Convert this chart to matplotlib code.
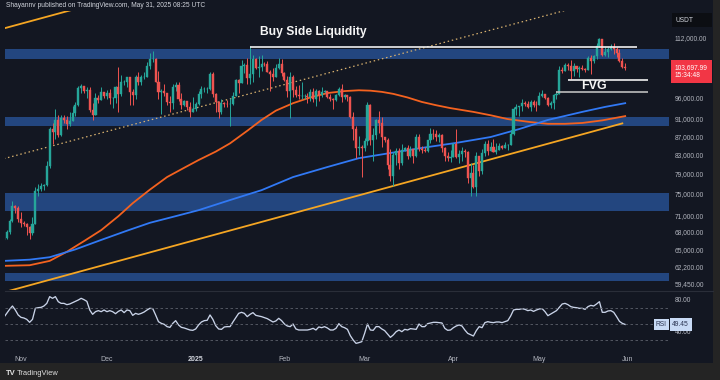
import numpy as np
import pandas as pd
import matplotlib
matplotlib.use("Agg")
import matplotlib.pyplot as plt
import matplotlib.dates as mdates
from matplotlib.patches import Rectangle
from matplotlib.lines import Line2D
from matplotlib.ticker import FixedLocator, NullLocator, FuncFormatter
from matplotlib.transforms import blended_transform_factory

plt.rcParams['font.family'] = ['Liberation Sans', 'DejaVu Sans']

# ---- data (BTC/USDT daily, prices in thousands) ----
start_date = "2024-10-26"
first_open = 66.6
closes = [
    67.0, 67.9, 69.9, 72.7, 72.3, 70.2,
    69.5, 69.4, 68.8, 67.8, 69.4, 75.6, 75.9, 76.5, 76.7, 80.5, 88.7, 87.9, 90.6, 87.3, 91.1,
    90.6, 89.8, 90.5, 92.3, 94.3, 98.4, 98.9, 97.7, 98.0, 93.0, 91.9, 95.9, 95.6, 97.5, 96.4,
    97.2, 95.9, 96.0, 98.8, 97.0, 99.9, 99.9, 101.2, 97.4, 96.7, 101.2, 100.0, 101.4, 101.4, 104.3,
    106.0, 106.1, 100.0, 97.5, 97.8, 97.2, 95.1, 94.7, 98.7, 99.3, 95.8, 94.2, 95.2, 93.7, 92.6, 93.4,
    94.4, 96.9, 98.1, 98.2, 98.3, 102.2, 96.9, 95.0, 92.5, 94.7, 94.6, 94.5, 94.5, 96.5, 100.5,
    99.8, 104.1, 104.5, 101.1, 102.0, 106.1, 103.7, 103.9, 104.8, 104.7, 102.6, 102.1, 101.3, 103.7, 104.7, 102.4,
    100.6, 97.6, 101.4, 97.9, 96.6, 96.5, 96.5, 96.5, 96.1, 97.4, 95.7, 97.8, 96.6, 97.5,
    97.6, 96.1, 95.8, 95.5, 96.6, 98.3, 96.1, 96.6, 96.3, 91.5, 88.7, 84.3, 84.7, 84.4,
    86.0, 94.3, 86.1, 87.2, 90.6, 89.9, 86.7, 86.2, 80.7, 78.5, 82.9, 83.7, 81.1, 84.0, 84.3,
    82.6, 84.1, 82.7, 86.9, 84.2, 84.0, 83.8, 86.1, 87.5, 87.4, 86.9, 87.2, 84.4, 82.6, 82.3, 82.5,
    85.2, 82.5, 83.1, 83.8, 83.5, 78.2, 79.2, 76.3, 82.6, 79.6, 83.4, 85.3, 83.7, 84.5, 83.6,
    84.0, 84.9, 84.4, 85.0, 85.1, 87.5, 93.4, 93.7, 93.9, 94.7, 94.6, 93.8, 95.0, 94.3, 94.2,
    96.5, 96.9, 95.9, 94.3, 94.7, 96.8, 97.0, 103.2, 102.9, 104.6, 104.1, 102.8, 104.1, 103.5, 103.7,
    103.5, 103.2, 106.5, 105.6, 106.8, 109.6, 111.7, 107.3, 108.0, 109.0, 109.4, 108.9, 107.8, 105.6, 103.9, 103.69799,
]
highs = [
    67.4, 68.3, 70.2, 73.6, 72.9, 72.7,
    71.6, 70.0, 69.5, 69.0, 70.6, 76.4, 76.9, 77.2, 76.9, 81.5, 89.0, 89.9, 93.4, 91.8, 91.9,
    91.8, 91.7, 92.6, 94.0, 94.9, 98.9, 99.6, 98.8, 98.7, 98.8, 94.7, 97.3, 96.6, 98.7, 97.5,
    97.9, 98.2, 96.3, 99.0, 103.9, 101.9, 100.5, 101.4, 101.2, 98.3, 101.9, 102.5, 101.9, 102.7, 105.2,
    107.8, 108.3, 106.5, 102.8, 98.2, 99.5, 97.3, 96.4, 99.4, 99.9, 99.9, 97.3, 95.5, 95.2, 94.9, 96.1,
    94.9, 97.8, 98.9, 98.7, 98.8, 102.5, 102.7, 97.3, 95.3, 95.8, 95.0, 95.4, 95.9, 97.4, 100.7,
    100.9, 105.9, 104.9, 106.3, 109.6, 107.2, 106.4, 106.8, 107.1, 105.3, 105.5, 103.2, 103.8, 104.8, 106.4, 106.1,
    102.7, 101.5, 102.5, 101.7, 99.0, 99.2, 100.1, 96.9, 97.3, 98.3, 98.5, 98.1, 97.9, 98.8,
    97.9, 97.7, 97.0, 96.0, 96.9, 98.7, 99.5, 96.9, 96.6, 96.5, 92.5, 89.3, 87.1, 85.1,
    86.5, 95.0, 94.4, 88.9, 91.0, 92.8, 91.3, 86.9, 86.5, 84.1, 83.6, 84.4, 84.3, 85.3, 84.7,
    85.1, 84.8, 84.1, 87.5, 87.4, 84.8, 84.5, 86.2, 88.8, 88.5, 88.3, 87.8, 87.5, 84.6, 83.5, 83.9,
    85.5, 88.5, 83.9, 84.7, 84.2, 83.8, 81.2, 80.8, 83.5, 82.7, 84.2, 85.9, 86.1, 85.8, 86.4,
    85.4, 85.4, 85.0, 85.6, 85.3, 88.4, 93.8, 94.6, 94.0, 95.7, 95.2, 95.3, 95.6, 95.5, 95.2,
    97.4, 97.9, 96.9, 96.3, 95.2, 96.9, 97.7, 104.1, 104.0, 104.9, 104.9, 105.7, 104.9, 104.3, 104.1,
    104.5, 103.7, 107.0, 107.1, 107.2, 110.7, 111.9, 111.8, 109.5, 109.3, 110.4, 110.7, 109.3, 108.9, 106.3, 104.9,
]
lows = [
    66.4, 66.8, 67.6, 69.7, 71.4, 69.7,
    68.8, 69.0, 67.5, 66.8, 67.5, 69.3, 74.5, 75.6, 75.8, 76.5, 80.2, 85.2, 86.3, 86.7, 87.1,
    90.1, 88.6, 89.4, 90.9, 91.6, 94.1, 97.2, 97.2, 95.9, 92.6, 90.8, 91.8, 94.7, 95.4, 96.0,
    95.8, 94.4, 93.6, 94.7, 92.5, 96.4, 99.2, 98.7, 94.2, 94.3, 95.7, 99.3, 99.2, 100.7, 101.3,
    103.3, 105.4, 99.9, 95.7, 92.2, 96.4, 94.2, 92.5, 93.4, 97.6, 95.2, 93.3, 94.0, 93.1, 91.3, 92.8,
    92.7, 94.2, 96.0, 97.5, 97.3, 97.9, 96.1, 92.5, 91.2, 92.2, 93.8, 93.7, 89.3, 94.3, 96.5,
    97.3, 99.9, 102.3, 99.6, 99.5, 100.1, 103.3, 101.3, 102.8, 104.1, 102.5, 97.8, 100.3, 101.3, 103.3, 101.6,
    100.3, 96.2, 91.2, 96.2, 96.2, 95.7, 95.7, 95.7, 94.7, 95.3, 94.9, 94.1, 95.2, 96.3,
    97.2, 96.0, 95.2, 93.3, 95.2, 96.4, 94.9, 95.8, 95.2, 91.2, 86.1, 82.3, 82.8, 78.3,
    83.8, 85.0, 85.1, 81.5, 86.4, 87.8, 84.7, 85.8, 80.0, 77.5, 76.6, 80.8, 79.9, 80.8, 83.7,
    82.0, 82.4, 81.2, 82.4, 83.7, 83.2, 83.6, 83.5, 85.5, 86.3, 85.9, 85.8, 83.6, 81.6, 81.5, 81.3,
    82.4, 82.3, 81.2, 81.7, 82.4, 77.2, 74.5, 76.2, 74.6, 78.5, 78.9, 82.7, 82.9, 83.7, 83.6,
    83.1, 83.9, 84.1, 84.4, 83.9, 85.1, 87.2, 91.9, 91.7, 92.9, 93.9, 93.6, 92.9, 93.8, 92.9,
    94.2, 96.3, 95.8, 94.0, 93.5, 93.4, 95.8, 96.9, 102.3, 102.8, 103.2, 100.8, 101.5, 102.6, 101.4,
    103.1, 102.6, 103.1, 102.1, 104.9, 106.2, 109.3, 106.8, 106.9, 106.6, 108.7, 107.5, 106.7, 105.3, 103.6, 103.1,
]

rsi = [
    58.3, 63.3, 68.3, 72.5, 67.5, 61.3, 58.3, 57.5, 55.8, 52.1, 55.8, 69.6, 70.4, 70.8, 72.5, 75.8,
    84.2, 82.1, 84.2, 77.9, 75.8, 75.8, 74.2, 75.0, 76.7, 78.3, 80.0, 82.1, 80.4, 78.3, 67.5, 62.1,
    65.4, 66.7, 65.4, 67.5, 65.4, 66.7, 65.4, 62.9, 65.8, 67.5, 64.2, 67.5, 66.7, 60.8, 63.3, 62.1,
    63.3, 65.0, 67.5, 69.6, 69.2, 61.3, 52.9, 50.8, 49.6, 46.7, 45.8, 50.8, 54.2, 48.8, 45.8, 45.0,
    43.8, 42.5, 42.1, 43.8, 48.8, 52.5, 54.2, 54.6, 61.3, 55.8, 47.9, 43.8, 43.3, 46.3, 46.7, 46.7,
    52.5, 57.9, 63.3, 64.6, 63.3, 59.2, 62.1, 64.2, 60.8, 60.0, 59.2, 57.9, 56.7, 54.6, 52.5, 53.8,
    57.1, 54.2, 50.0, 47.5, 46.7, 50.0, 43.8, 42.5, 42.5, 42.5, 42.5, 43.3, 44.6, 42.5, 46.3, 45.4,
    46.7, 45.0, 42.5, 42.5, 44.6, 50.4, 46.7, 45.4, 43.3, 35.4, 30.0, 25.8, 26.7,
    27.9, 38.3, 50.0, 42.5, 42.1, 46.7, 46.7, 43.8, 41.7, 37.5, 33.3, 36.3, 40.4, 42.5, 40.4, 43.3,
    42.5, 44.2, 43.8, 43.3, 50.0, 46.7, 46.7, 50.4, 51.3, 52.1, 52.1, 51.7, 51.3, 44.6, 42.1, 42.5,
    45.4, 47.5, 48.8, 47.5, 42.5, 38.3, 36.7, 35.0, 41.7, 46.7, 45.4, 51.7, 52.9, 52.1, 51.7, 52.5,
    52.5, 51.7, 52.9, 54.2, 60.0, 67.5, 68.3, 68.3, 69.2, 68.3, 66.7, 67.5, 65.8, 67.5, 68.8, 69.2,
    65.4, 60.4, 62.5, 64.6, 66.7, 70.8, 75.0, 75.8, 74.2, 71.7, 70.8, 70.4, 69.6, 69.6, 68.3, 71.7,
    73.3, 72.5, 75.0, 77.9, 64.6, 64.6, 66.3, 66.7, 64.6, 59.2, 53.3, 50.8, 49.45,
]

# moving averages (date, price in thousands)
ma_red_dates = ["2024-10-26", "2024-11-04", "2024-11-11", "2024-11-17", "2024-11-23", "2024-11-29",
                "2024-12-05", "2024-12-10", "2024-12-16", "2024-12-22", "2024-12-28", "2025-01-02",
                "2025-01-08", "2025-01-13", "2025-01-19", "2025-01-24", "2025-01-29", "2025-02-04",
                "2025-02-10", "2025-02-16", "2025-02-22", "2025-02-27", "2025-03-03", "2025-03-07",
                "2025-03-11", "2025-03-16", "2025-03-21", "2025-03-26", "2025-03-31", "2025-04-08",
                "2025-04-14", "2025-04-20", "2025-04-28", "2025-05-04", "2025-05-10", "2025-05-16",
                "2025-05-23", "2025-05-31"]
ma_red_vals = [62.3, 62.4, 63.1, 64.6, 66.4, 68.3,
               70.8, 73.2, 75.8, 78.3, 80.2, 81.8,
               83.6, 85.4, 88.2, 90.7, 92.9, 94.7,
               96.1, 97.2, 97.7, 97.9, 97.8, 97.5,
               97.0, 96.1, 95.0, 94.2, 93.5, 92.6,
               91.8, 90.9, 90.2, 89.8, 89.8, 90.0,
               90.6, 91.6]
ma_blue_dates = ["2024-10-26", "2024-11-04", "2024-11-11", "2024-11-20", "2024-11-29", "2024-12-08",
                 "2024-12-16", "2024-12-25", "2025-01-02", "2025-01-13", "2025-01-24", "2025-02-04",
                 "2025-02-16", "2025-02-27", "2025-03-10", "2025-03-21", "2025-04-02", "2025-04-14",
                 "2025-04-24", "2025-05-04", "2025-05-16", "2025-05-24", "2025-05-31"]
ma_blue_vals = [63.1, 63.3, 63.7, 65.0, 66.6, 68.2,
                69.6, 70.8, 71.9, 73.8, 75.7, 78.3,
                80.35, 82.2, 83.3, 84.4, 85.5, 86.8,
                88.6, 90.7, 92.6, 93.8, 94.7]

# drawn objects
channel_dates = ["2024-10-26", "2025-05-30"]
channel_lower = [58.2, 89.9]
channel_mid = [82.1, 125.0]
channel_upper = [114.8, 177.0]
zones = [(106.0, 108.8), (89.3, 91.5), (71.7, 75.2), (59.9, 61.2)]
bsl_level = 109.3
bsl_span = ["2025-01-20", "2025-06-04"]
fvg_top, fvg_bottom = 100.5, 97.5
fvg_top_span = ["2025-05-11", "2025-06-08"]
fvg_bottom_span = ["2025-05-07", "2025-06-08"]

price_ticks = [112000, 96000, 91000, 87000, 83000, 79000, 75000, 71000, 68000, 65000, 62200, 59450]
month_ticks = ["2024-11-01", "2024-12-01", "2025-01-01", "2025-02-01", "2025-03-01",
               "2025-04-01", "2025-05-01", "2025-06-01"]
month_labels = ["Nov", "Dec", "2025", "Feb", "Mar", "Apr", "May", "Jun"]

# ---- style ----
BG = "#131722"
FRAME = "#242424"
TXT = "#b2b5be"
UP, DOWN = "#26a69a", "#ef5350"
ZONE = "#23467f"

W, H = 720, 380
def box(x0, y0, x1, y1):
    return [x0 / W, 1 - y1 / H, (x1 - x0) / W, (y1 - y0) / H]

fig = plt.figure(figsize=(7.2, 3.8), dpi=100, facecolor=BG)
ax = fig.add_axes(box(5, 11, 669, 290))
rs = fig.add_axes(box(5, 291, 669, 348), sharex=ax)

days = pd.date_range(start_date, periods=len(closes), freq="D")
x = mdates.date2num(days)
c = np.array(closes) * 1000
h = np.array(highs) * 1000
l = np.array(lows) * 1000
o = np.r_[first_open, closes[:-1]] * 1000
h = np.maximum(h, np.maximum(o, c))
l = np.minimum(l, np.minimum(o, c))
cols = np.where(c >= o, UP, DOWN)

def dn(d):
    return mdates.date2num(pd.to_datetime(d))

ax.set_facecolor(BG)
ax.set_yscale("log")
for lo, hi in zones:
    ax.axhspan(lo * 1000, hi * 1000, color=ZONE, lw=0, zorder=1)

ax.plot(dn(channel_dates), np.array(channel_lower) * 1000, color="#f5a623", lw=1.3, zorder=3)
ax.plot(dn(channel_dates), np.array(channel_upper) * 1000, color="#f5a623", lw=1.3, zorder=3)
ax.plot(dn(channel_dates), np.array(channel_mid) * 1000, color="#d9b26f", lw=0.9,
        ls=(0, (1.2, 2.2)), zorder=3)

ax.plot(dn(ma_red_dates), np.array(ma_red_vals) * 1000, color="#f4621f", lw=1.3, zorder=4,
        solid_joinstyle="round")
ax.plot(dn(ma_blue_dates), np.array(ma_blue_vals) * 1000, color="#3179f5", lw=1.3, zorder=4,
        solid_joinstyle="round")

ax.vlines(x, l, h, colors=cols, lw=0.7, zorder=5)
ax.bar(x, np.abs(c - o), bottom=np.minimum(o, c), width=0.72, color=cols,
       edgecolor=cols, linewidth=0.3, zorder=6)

ax.hlines(bsl_level * 1000, dn(bsl_span[0]), dn(bsl_span[1]), color="#f0f0f0", lw=1.2, zorder=7)
ax.text(dn("2025-02-11"), 113700, "Buy Side Liquidity", color="#f5f5f5", fontsize=8.7,
        fontweight="bold", ha="center", va="center", zorder=8)
ax.hlines(fvg_top * 1000, dn(fvg_top_span[0]), dn(fvg_top_span[1]), color="#f0f0f0", lw=1.2, zorder=7)
ax.hlines(fvg_bottom * 1000, dn(fvg_bottom_span[0]), dn(fvg_bottom_span[1]), color="#bdbdbd",
          lw=1.2, zorder=7)
ax.text(dn("2025-05-20"), 99100, "FVG", color="#f5f5f5", fontsize=9, fontweight="bold",
        ha="center", va="center", zorder=8)

x_left = x[0] + 0.4
ax.set_xlim(x_left, x_left + 231.9)
ax.set_ylim(58545, 120063)
ax.yaxis.tick_right()
ax.yaxis.set_major_locator(FixedLocator(price_ticks))
ax.yaxis.set_minor_locator(NullLocator())
ax.yaxis.set_major_formatter(FuncFormatter(lambda v, p: f"{v:,.2f}"))
ax.tick_params(axis="y", length=0, pad=4, labelsize=4.8, labelcolor=TXT)
ax.tick_params(axis="x", length=0, labelbottom=False)
for s in ax.spines.values():
    s.set_visible(False)

# last price tag (price line centred on the last close, countdown below)
bt = blended_transform_factory(ax.transAxes, ax.transData)
ax.annotate(f"{c[-1]:,.2f}\n15:34:48", xy=(1.0, c[-1]), xycoords=bt, xytext=(4.2, -2.8),
            textcoords="offset points", ha="left", va="center", fontsize=4.8, color="white",
            linespacing=1.15, annotation_clip=False,
            bbox=dict(boxstyle="square,pad=0.6", fc="#f23645", ec="none"))

# RSI pane
rs.set_facecolor(BG)
rs.plot(x[:len(rsi)], rsi, color="#c9d3e8", lw=0.95)
for lvl in (70, 50, 30):
    rs.axhline(lvl, color="#5d606b", lw=0.6, ls=(0, (3, 3)))
rs.set_ylim(20, 91.25)
rs.yaxis.tick_right()
rs.set_yticks([80, 40])
rs.set_yticklabels(["80.00", "40.00"])
rs.tick_params(axis="y", length=0, pad=4, labelsize=4.8, labelcolor=TXT)
rs.set_xticks(dn(month_ticks))
rs.set_xticklabels(month_labels)
rs.tick_params(axis="x", length=0, pad=6, labelsize=5, labelcolor=TXT)
for t in rs.get_xticklabels():
    if t.get_text() == "2025":
        t.set_fontweight("bold")
        t.set_color("#d1d4dc")
for s in rs.spines.values():
    s.set_visible(False)
rt = blended_transform_factory(rs.transAxes, rs.transData)
rs.annotate("RSI", xy=(1.0, rsi[-1]), xycoords=rt, xytext=(-1.5, 0), textcoords="offset points",
            ha="right", va="center", fontsize=4.8, color="#2a3350", annotation_clip=False,
            bbox=dict(boxstyle="square,pad=0.3", fc="#c8daf5", ec="none"))
rs.annotate(f"{rsi[-1]:.2f}", xy=(1.0, rsi[-1]), xycoords=rt, xytext=(2.3, 0), textcoords="offset points",
            ha="left", va="center", fontsize=4.8, color="#2a3350", annotation_clip=False,
            bbox=dict(boxstyle="square,pad=0.4", fc="#c8daf5", ec="none"))

# frame, header, footer
fig.add_artist(Line2D([5 / W, 713 / W], [1 - 290.5 / H, 1 - 290.5 / H], color="#2a2e39", lw=0.8))
fig.add_artist(Rectangle((0, 0), 1, 17 / H, transform=fig.transFigure, fc=FRAME, ec="none"))
fig.add_artist(Rectangle((713 / W, 0), 7 / W, 1, transform=fig.transFigure, fc=FRAME, ec="none"))
fig.add_artist(Rectangle((672 / W, 1 - 27 / H), 40 / W, 14 / H, transform=fig.transFigure,
                         fc="#0c0e13", ec="none"))
fig.text(675 / W, 1 - 20 / H, "USDT", fontsize=4.8, color="#d1d4dc", va="center", ha="left")
fig.text(6 / W, 1 - 5.5 / H, "Shayannv published on TradingView.com, May 31, 2025 08:25 UTC",
         fontsize=4.8, color="#d1d4dc", va="center", ha="left")
fig.text(6 / W, 1 - 373.5 / H, "TV", fontsize=5.5, fontweight="heavy", color="#e0e0e0",
         va="center", ha="left")
fig.text(17 / W, 1 - 373.5 / H, "TradingView", fontsize=5.4, color="#e0e0e0", va="center", ha="left")

fig.savefig("out.png", dpi=100, facecolor=fig.get_facecolor())
